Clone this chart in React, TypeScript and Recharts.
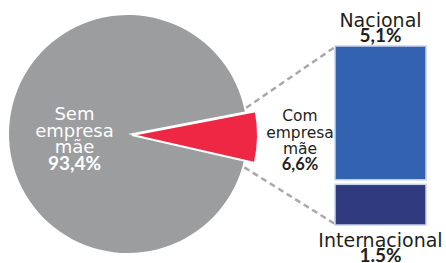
import React from "react";
import { PieChart, Pie, Cell, BarChart, Bar, XAxis, YAxis } from "recharts";

// Pie: parent/no-parent company split
const pieNames = ["Com empresa mãe", "Sem empresa mãe"];
const pieValues = [6.6, 93.4];
const pieLabels = ["6,6%", "93,4%"];
const pieColors = ["#ee2745", "#9b9d9e"];

// Bar: breakdown of "Com empresa mãe"
const barNames = ["Internacional", "Nacional"];
const barValues = [1.5, 5.1];
const barLabels = ["1.5%", "5,1%"];
const barColors = ["#2f3a7f", "#3363b0"];

const W = 446;
const H = 263;
const RADIAN = Math.PI / 180;

const PIE_CX = 128;
const PIE_CY = 134;
const PIE_R = 119;
const EXPLODE_CX = 132;
const EXPLODE_CY = 135;
const EXPLODE_R = 126;
const START = 10.9;

const BAR_CHART_LEFT = 300;
const BAR_CHART_WIDTH = 146;
const BAR_LEFT = 335;
const BAR_WIDTH = 91;
const BAR_TOP = 46;
const BAR_BOTTOM = 225;
const BAR_GAP = 4.5;

const TEXT = "#231f20";
const REGULAR = "'DejaVu Sans', sans-serif";
const BOLD = "Lato, sans-serif";

const pieData = pieNames.map((name, i) => ({ name, value: pieValues[i], label: pieLabels[i] }));
const barRow: Record<string, string | number> = { name: "Com empresa mãe" };
barNames.forEach((n, i) => (barRow[n] = barValues[i]));
const barTotal = barValues.reduce((a, b) => a + b, 0);

function lines(x: number, y: number, words: string[], pct: string, size: number, offsets: number[], color: string) {
  return (
    <g>
      {words.map((w, i) => (
        <text key={i} x={x} y={y + offsets[i]} textAnchor="middle" fill={color} fontFamily={REGULAR} fontSize={size}>
          {w}
        </text>
      ))}
      <text x={x} y={y + offsets[words.length]} textAnchor="middle" fill={color} fontFamily={BOLD} fontWeight={700} fontSize={size + 1}>
        {pct}
      </text>
    </g>
  );
}

const greyLabel = (props: any) => {
  if (props.index !== 1) return null;
  const r = props.outerRadius * 0.45;
  const x = props.cx + r * Math.cos(-props.midAngle * RADIAN);
  const y = props.cy + r * Math.sin(-props.midAngle * RADIAN);
  return lines(x, y, ["Sem", "empresa", "mãe"], pieLabels[1], 18, [-13, 3.7, 20.3, 37], "#ffffff");
};

const redLabel = (props: any) => {
  if (props.index !== 0) return null;
  const r = props.outerRadius + 42;
  const x = props.cx + r * Math.cos(-props.midAngle * RADIAN);
  const y = props.cy + r * Math.sin(-props.midAngle * RADIAN);
  return lines(x, y, ["Com", "empresa", "mãe"], pieLabels[0], 15.5, [-16.4, -0.2, 15.9, 32.1], TEXT);
};

const barShape = (inset: boolean) => (props: any) => {
  const { x, y, width, height, fill } = props;
  const h = inset ? height - BAR_GAP : height;
  return <rect x={x} y={y} width={width} height={Math.max(h, 0)} fill={fill} stroke="#c9d2ec" strokeWidth={1.5} />;
};

const topLabel = (props: any) => {
  const { x, y, width } = props;
  const cx = x + width / 2;
  return (
    <g>
      <text x={cx} y={y - 19} textAnchor="middle" fill={TEXT} fontFamily={REGULAR} fontSize={19}>
        {barNames[1]}
      </text>
      <text x={cx} y={y - 4} textAnchor="middle" fill={TEXT} fontFamily={BOLD} fontWeight={700} fontSize={19}>
        {barLabels[1]}
      </text>
    </g>
  );
};

const bottomLabel = (props: any) => {
  const { x, y, width, height } = props;
  const cx = x + width / 2;
  const b = y + height;
  return (
    <g>
      <text x={cx} y={b + 21.5} textAnchor="middle" fill={TEXT} fontFamily={REGULAR} fontSize={19}>
        {barNames[0]}
      </text>
      <text x={cx} y={b + 37} textAnchor="middle" fill={TEXT} fontFamily={BOLD} fontWeight={700} fontSize={19}>
        {barLabels[0]}
      </text>
    </g>
  );
};

function connector(angle: number, tx: number, ty: number) {
  const r = PIE_R + 2;
  const x1 = PIE_CX + r * Math.cos(angle * RADIAN);
  const y1 = PIE_CY - r * Math.sin(angle * RADIAN);
  return <line x1={x1} y1={y1} x2={tx} y2={ty} stroke="#a7a9ab" strokeWidth={2.5} strokeDasharray="6 4" />;
}

export default function App() {
  return (
    <div style={{ position: "absolute", left: 0, top: 0, width: W, height: H, background: "#fff", overflow: "hidden" }}>
      <div style={{ position: "absolute", left: 0, top: 0 }}>
        <PieChart width={W} height={H} margin={{ top: 0, right: 0, bottom: 0, left: 0 }}>
          <Pie
            data={pieData}
            dataKey="value"
            cx={PIE_CX}
            cy={PIE_CY}
            outerRadius={PIE_R}
            startAngle={START}
            endAngle={START - 360}
            stroke="none"
            labelLine={false}
            label={greyLabel}
            isAnimationActive={false}
          >
            {pieData.map((d, i) => (
              <Cell key={d.name} fill={i === 1 ? pieColors[1] : "none"} stroke="none" />
            ))}
          </Pie>
          <Pie
            data={pieData}
            dataKey="value"
            cx={EXPLODE_CX}
            cy={EXPLODE_CY}
            outerRadius={EXPLODE_R}
            startAngle={START}
            endAngle={START - 360}
            labelLine={false}
            label={redLabel}
            isAnimationActive={false}
          >
            {pieData.map((d, i) => (
              <Cell
                key={d.name}
                fill={i === 0 ? pieColors[0] : "none"}
                stroke={i === 0 ? "#ffffff" : "none"}
                strokeWidth={i === 0 ? 2 : 0}
              />
            ))}
          </Pie>
        </PieChart>
      </div>
      <svg style={{ position: "absolute", left: 0, top: 0 }} width={W} height={H}>
        {connector(12.5, BAR_LEFT, BAR_TOP + 1)}
        {connector(-16, BAR_LEFT, BAR_BOTTOM - 1)}
      </svg>
      <div style={{ position: "absolute", left: BAR_CHART_LEFT, top: 0 }}>
        <BarChart
          width={BAR_CHART_WIDTH}
          height={H}
          data={[barRow]}
          margin={{
            top: BAR_TOP,
            bottom: H - BAR_BOTTOM,
            left: BAR_LEFT - BAR_CHART_LEFT,
            right: BAR_CHART_WIDTH - (BAR_LEFT - BAR_CHART_LEFT) - BAR_WIDTH,
          }}
          barCategoryGap={0}
        >
          <XAxis dataKey="name" hide />
          <YAxis type="number" domain={[0, barTotal]} hide />
          <Bar
            dataKey={barNames[0]}
            stackId="a"
            fill={barColors[0]}
            shape={barShape(false)}
            label={bottomLabel}
            isAnimationActive={false}
          />
          <Bar
            dataKey={barNames[1]}
            stackId="a"
            fill={barColors[1]}
            shape={barShape(true)}
            label={topLabel}
            isAnimationActive={false}
          />
        </BarChart>
      </div>
    </div>
  );
}
